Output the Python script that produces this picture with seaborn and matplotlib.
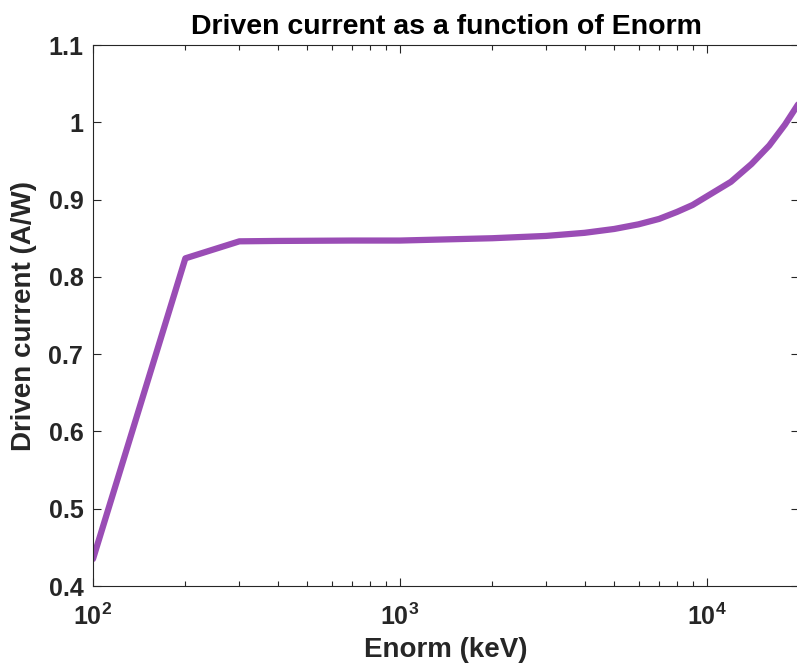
import numpy as np
import pandas as pd
import seaborn as sns
import matplotlib
matplotlib.use("Agg")
import matplotlib.pyplot as plt
from matplotlib.ticker import FixedLocator, FixedFormatter, LogLocator, NullFormatter

# values
enorm_kev = [100, 200, 300, 400, 500, 700, 1000, 2000, 3000, 4000, 5000, 6000,
             7000, 8000, 9000, 10000, 12000, 14000, 16000, 18000, 20000]
driven_current = [0.435, 0.824, 0.846, 0.8465, 0.8467, 0.847, 0.847, 0.850, 0.853,
                  0.857, 0.862, 0.868, 0.875, 0.884, 0.893, 0.904, 0.923, 0.946,
                  0.970, 0.997, 1.025]
x_ticks = [100, 1000, 10000]
x_tick_labels = [r"$\mathbf{10^{2}}$", r"$\mathbf{10^{3}}$", r"$\mathbf{10^{4}}$"]
y_ticks = [0.4, 0.5, 0.6, 0.7, 0.8, 0.9, 1.0, 1.1]
y_tick_labels = ["0.4", "0.5", "0.6", "0.7", "0.8", "0.9", "1", "1.1"]

sns.set_style("ticks")
plt.rcParams["font.family"] = ["Liberation Sans", "DejaVu Sans"]
plt.rcParams["font.weight"] = "bold"
plt.rcParams["mathtext.fontset"] = "custom"
plt.rcParams["mathtext.rm"] = "Liberation Sans:bold"
plt.rcParams["mathtext.bf"] = "Liberation Sans:bold"
plt.rcParams["mathtext.it"] = "Liberation Sans:bold"

d = pd.DataFrame({"Enorm": enorm_kev, "current": driven_current})

fig = plt.figure(figsize=(7.97, 6.66), dpi=100)
ax = fig.add_axes([0.1167, 0.1201, 0.8858, 0.8123])

sns.lineplot(data=d, x="Enorm", y="current", ax=ax, color="#9A4DB5", linewidth=4.5)

ax.set_xscale("log")
ax.set_xlim(100, 20000)
ax.set_ylim(0.4, 1.1)

dark = "#262626"
ax.xaxis.set_major_locator(FixedLocator(x_ticks))
ax.xaxis.set_major_formatter(FixedFormatter(x_tick_labels))
ax.xaxis.set_minor_locator(LogLocator(base=10, subs=np.arange(2, 10)))
ax.xaxis.set_minor_formatter(NullFormatter())
ax.set_yticks(y_ticks)
ax.set_yticklabels(y_tick_labels)

ax.tick_params(which="both", direction="in", top=True, right=True, colors=dark,
               width=0.8, labelsize=18)
ax.tick_params(which="major", length=6)
ax.tick_params(which="minor", length=3.5)
ax.tick_params(axis="x", which="major", pad=13)
ax.tick_params(axis="y", which="major", pad=7)
for s in ax.spines.values():
    s.set_color(dark)
    s.set_linewidth(0.8)
    s.set_visible(True)

ax.set_xlabel("Enorm (keV)", fontsize=20, fontweight="bold", color=dark, labelpad=5)
ax.set_ylabel("Driven current (A/W)", fontsize=20, fontweight="bold", color=dark, labelpad=8)
ax.set_title("Driven current as a function of Enorm", fontsize=20.5, fontweight="bold",
             color="black", pad=8)

fig.savefig("out.png", dpi=100)
plt.close()
